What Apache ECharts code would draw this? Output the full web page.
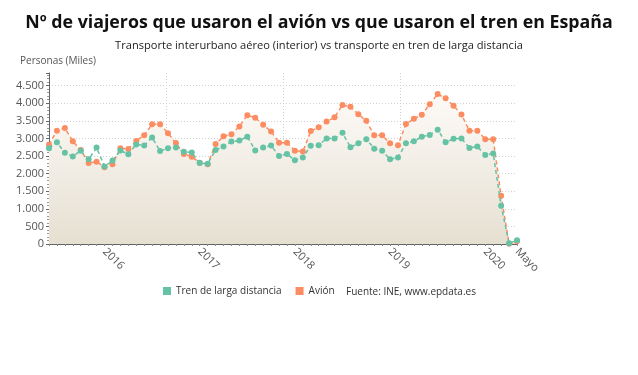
<!DOCTYPE html>
<html>
<head>
<meta charset="utf-8">
<script src="https://cdn.jsdelivr.net/npm/echarts@6/dist/echarts.min.js"></script>
<style>
  html, body { margin: 0; padding: 0; background: #fff; }
  #chart { width: 638px; height: 375px; }
</style>
</head>
<body>
<div id="chart"></div>
<script>
// meses jun 2015 - may 2020
const months = [
  '2015-06', '2015-07', '2015-08', '2015-09', '2015-10', '2015-11', '2015-12',
  '2016-01', '2016-02', '2016-03', '2016-04', '2016-05', '2016-06', '2016-07', '2016-08', '2016-09', '2016-10', '2016-11', '2016-12',
  '2017-01', '2017-02', '2017-03', '2017-04', '2017-05', '2017-06', '2017-07', '2017-08', '2017-09', '2017-10', '2017-11', '2017-12',
  '2018-01', '2018-02', '2018-03', '2018-04', '2018-05', '2018-06', '2018-07', '2018-08', '2018-09', '2018-10', '2018-11', '2018-12',
  '2019-01', '2019-02', '2019-03', '2019-04', '2019-05', '2019-06', '2019-07', '2019-08', '2019-09', '2019-10', '2019-11', '2019-12',
  '2020-01', '2020-02', '2020-03', '2020-04', '2020-05'
]
const tren = [
  2720, 2890, 2590, 2490, 2650, 2410, 2740,
  2200, 2370, 2660, 2550, 2830, 2800, 3030, 2640, 2720, 2740, 2620, 2600,
  2300, 2280, 2670, 2770, 2910, 2940, 3050, 2660, 2740, 2800, 2500, 2560,
  2380, 2460, 2790, 2810, 3000, 3000, 3160, 2750, 2860, 2980, 2710, 2650,
  2410, 2460, 2860, 2920, 3050, 3100, 3250, 2890, 2990, 3000, 2730, 2770,
  2530, 2570, 1090, 20, 110
]
const avion = [
  2820, 3220, 3300, 2920, 2670, 2300, 2340,
  2180, 2270, 2720, 2700, 2930, 3090, 3400, 3400, 3150, 2870, 2560, 2480,
  2310, 2270, 2840, 3060, 3120, 3340, 3660, 3590, 3390, 3200, 2880, 2880,
  2650, 2630, 3210, 3320, 3480, 3600, 3950, 3900, 3690, 3500, 3090, 3090,
  2860, 2810, 3410, 3560, 3670, 3970, 4260, 4140, 3930, 3680, 3220, 3220,
  2980, 2980, 1370, 10, 75
]
const yTicks = { min: 0, max: 4860, interval: 500 }

const chart = echarts.init(document.getElementById('chart'))
const font = '"Open Sans", "Noto Sans", sans-serif'
const gridLine = { show: true, lineStyle: { color: '#d0d0d0', type: [1, 2], width: 1 } }

chart.setOption({
  textStyle: { fontFamily: font },
  title: [{
    text: 'Nº de viajeros que usaron el avión vs que usaron el tren en España',
    left: 'center', top: 14, padding: 0,
    textStyle: { fontSize: 17.8, fontWeight: 'bold', color: '#111', fontFamily: font }
  }, {
    text: 'Transporte interurbano aéreo (interior) vs transporte en tren de larga distancia',
    left: 'center', top: 40, padding: 0,
    textStyle: { fontSize: 11.1, fontWeight: 'normal', color: '#222', fontFamily: font }
  }, {
    text: 'Personas (Miles)',
    left: 20, top: 56, padding: 0,
    textStyle: { fontSize: 10, fontWeight: 'normal', color: '#555', fontFamily: font }
  }],
  legend: {
    left: 163, top: 286, padding: 0,
    icon: 'rect', itemWidth: 8, itemHeight: 8, itemGap: 14,
    textStyle: { fontSize: 10, color: '#333', fontFamily: font },
    data: ['Tren de larga distancia', 'Avión']
  },
  graphic: [{
    type: 'text', left: 346, top: 287,
    style: { text: 'Fuente: INE, www.epdata.es', font: '10px ' + font, fill: '#333' }
  }],
  grid: { left: 49, right: 121, top: 73, bottom: 131 },
  xAxis: [{
    type: 'category',
    data: months,
    boundaryGap: false,
    axisLine: { lineStyle: { color: '#666' } },
    axisTick: { show: true, interval: 0, length: 2, lineStyle: { color: '#888' } },
    axisLabel: {
      rotate: -45,
      fontSize: 11,
      color: '#555',
      margin: 6,
      interval: (i, v) => v.endsWith('-01') || i === months.length - 1,
      formatter: (v, i) => i === months.length - 1 ? 'Mayo' : v.slice(0, 4)
    },
    splitLine: { show: false }
  }, {
    // lineas verticales del fondo
    type: 'value', min: 0, max: 4, interval: 1, position: 'top',
    axisLine: { show: false }, axisTick: { show: false }, axisLabel: { show: false },
    splitLine: { ...gridLine, showMinLine: false, showMaxLine: false }
  }],
  yAxis: {
    type: 'value',
    min: yTicks.min, max: yTicks.max, interval: yTicks.interval,
    axisLine: { show: true, lineStyle: { color: '#666' } },
    axisTick: { show: true, length: 3, lineStyle: { color: '#666' } },
    minorTick: { show: true, splitNumber: 5, length: 2, lineStyle: { color: '#999' } },
    axisLabel: {
      fontSize: 11, color: '#555', margin: 5, showMaxLabel: false,
      formatter: v => v.toLocaleString('de-DE')
    },
    splitLine: { ...gridLine, showMaxLine: false }
  },
  series: [{
    name: 'Avión',
    type: 'line',
    data: avion,
    color: '#fc8d62',
    symbol: 'circle',
    symbolSize: 6,
    showAllSymbol: true,
    lineStyle: { width: 1.5, type: [4, 3] },
    areaStyle: {
      opacity: 1,
      color: new echarts.graphic.LinearGradient(0, 0, 0, 1, [
        { offset: 0, color: '#fdfaf7' },
        { offset: 1, color: '#e6e0d2' }
      ])
    },
    z: 2
  }, {
    name: 'Tren de larga distancia',
    type: 'line',
    data: tren,
    color: '#66c2a5',
    symbol: 'circle',
    symbolSize: 6,
    showAllSymbol: true,
    lineStyle: { width: 1.5, type: [4, 3] },
    z: 3
  }]
})
</script>
</body>
</html>
